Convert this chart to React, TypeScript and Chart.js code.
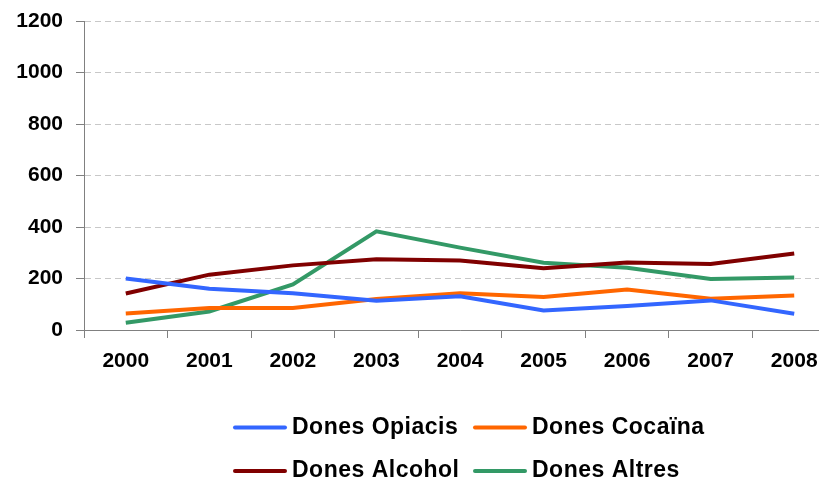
import React, { useEffect, useRef } from "react";
import { Chart, registerables } from "chart.js";

Chart.register(...registerables);

const years = ["2000", "2001", "2002", "2003", "2004", "2005", "2006", "2007", "2008"];
const opiacis = [200, 160, 143, 114, 131, 76, 93, 115, 63];
const cocaina = [64, 85, 85, 120, 143, 128, 157, 121, 134];
const alcohol = [142, 215, 251, 275, 270, 240, 262, 256, 297];
const altres = [28, 72, 177, 383, 320, 261, 242, 198, 204];
const seriesNames = ["Dones Opiacis", "Dones Cocaïna", "Dones Alcohol", "Dones Altres"];
const seriesColors = ["#3366FF", "#FF6600", "#800000", "#339966"];
const yTicks = [0, 200, 400, 600, 800, 1000, 1200];

const FONT = '"Liberation Sans", Arial, Helvetica, sans-serif';

const gridLegend = {
  id: "gridLegend",
  afterDraw(chart: any) {
    const ctx = chart.ctx;
    const cols = [233, 473];
    const lineYs = [427.5, 471];
    const baseYs = [433.5, 477];
    chart.data.datasets.forEach((ds: any, i: number) => {
      const x = cols[i % 2];
      const r = Math.floor(i / 2);
      ctx.save();
      ctx.strokeStyle = ds.borderColor;
      ctx.lineWidth = 4;
      ctx.lineCap = "round";
      ctx.beginPath();
      ctx.moveTo(x + 2, lineYs[r]);
      ctx.lineTo(x + 52, lineYs[r]);
      ctx.stroke();
      ctx.font = `bold 23px ${FONT}`;
      (ctx as any).letterSpacing = "0.5px";
      ctx.fillStyle = "#000";
      ctx.textBaseline = "alphabetic";
      ctx.textAlign = "left";
      ctx.fillText(ds.label, x + 59, baseYs[r]);
      ctx.restore();
    });
  },
};

export default function App() {
  const ref = useRef<HTMLCanvasElement | null>(null);

  useEffect(() => {
    if (!ref.current) return;
    const values = [opiacis, cocaina, alcohol, altres];
    const chart = new Chart(ref.current, {
      type: "line",
      data: {
        labels: years,
        datasets: values.map((v, i) => ({
          label: seriesNames[i],
          data: v,
          borderColor: seriesColors[i],
          backgroundColor: seriesColors[i],
          borderWidth: 4,
          pointRadius: 0,
          tension: 0,
          fill: false,
        })),
      },
      options: {
        responsive: false,
        animation: false,
        layout: { padding: { top: 21, right: 4, left: 0, bottom: 0 } },
        plugins: {
          legend: { display: false },
          tooltip: { enabled: false },
        },
        scales: {
          x: {
            offset: true,
            grid: {
              offset: true,
              drawOnChartArea: false,
              drawTicks: true,
              tickLength: 8,
              tickColor: "#808080",
            },
            border: { color: "#808080", width: 1 },
            ticks: {
              color: "#000",
              padding: 11,
              maxRotation: 0,
              font: { family: FONT, size: 21, weight: "bold" },
            },
            afterFit(scale: any) {
              scale.height = 150;
            },
          },
          y: {
            min: 0,
            max: 1200,
            afterBuildTicks(scale: any) {
              scale.ticks = yTicks.map((v) => ({ value: v }));
            },
            grid: {
              color: "#C8C8C8",
              tickColor: "#808080",
              tickLength: 8,
              tickBorderDash: [],
            },
            border: { color: "#808080", width: 1, dash: [6, 4] },
            ticks: {
              color: "#000",
              padding: 13,
              font: { family: FONT, size: 21, weight: "bold" },
              callback: (v: any) => String(v),
            },
            afterFit(scale: any) {
              scale.width = 84;
              scale.paddingTop = 0;
              scale.paddingBottom = 0;
            },
          },
        },
      },
      plugins: [gridLegend],
    } as any);
    return () => chart.destroy();
  }, []);

  return (
    <div
      style={{
        position: "absolute",
        left: 0,
        top: 0,
        width: 819,
        height: 480,
        overflow: "hidden",
        background: "#fff",
      }}
    >
      <canvas ref={ref} width={840} height={480} style={{ display: "block" }} />
    </div>
  );
}
